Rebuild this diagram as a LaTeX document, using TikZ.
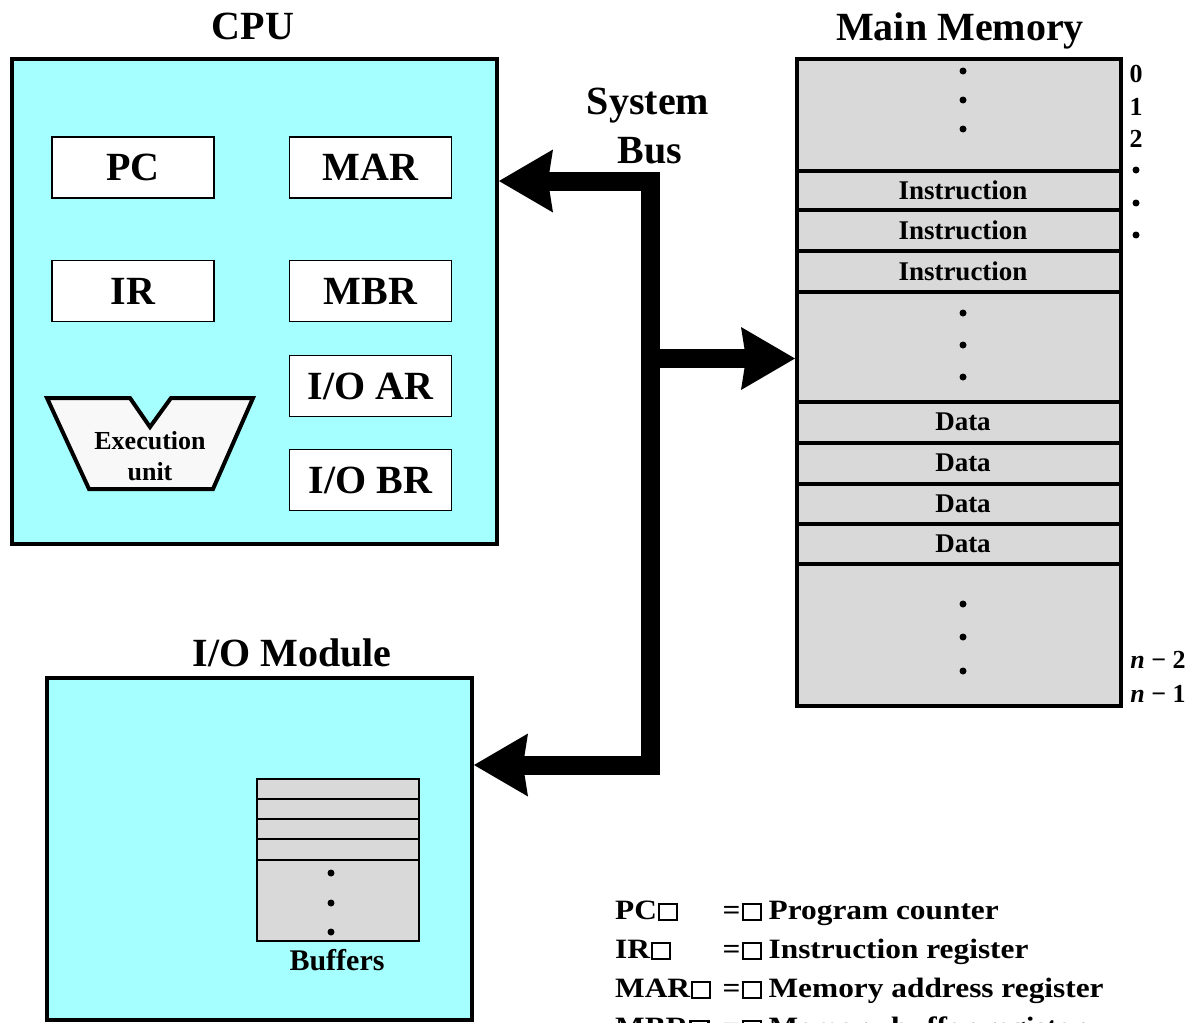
\documentclass[tikz,border=0pt]{standalone}
\usepackage{fontspec}
\usepackage{graphicx}
\setmainfont{Liberation Serif}
\usetikzlibrary{arrows.meta}
\definecolor{cpucyan}{RGB}{166,255,255}
\definecolor{memgray}{RGB}{217,217,217}
\definecolor{exugray}{RGB}{248,248,248}
\newcommand{\fs}[1]{\fontsize{#1}{#1}\selectfont\bfseries}
\newcommand{\sqb}{\kern1pt{\fboxsep=0pt\fboxrule=2pt\fbox{\rule{0pt}{14pt}\hspace{14pt}}}\kern2pt}
\tikzset{
  bustip/.tip={Stealth[line width=0pt,length=54pt,width=63pt,inset=5pt]},
  title/.style={font=\fs{40}, anchor=base, inner sep=0},
  bigbox/.style={draw, line width=4pt, fill=cpucyan, inner sep=0},
  reg/.style={draw, line width=1.6pt, fill=white, minimum width=162pt, minimum height=61pt, inner sep=0, font=\fs{40}},
  memrow/.style={font=\fs{27}, inner sep=0},
  memsep/.style={line width=4pt},
  dotmark/.style={circle, fill=black, inner sep=0, minimum size=7pt},
  idx/.style={font=\fs{26}, anchor=base, inner sep=0},
  busline/.style={line width=19pt, line join=miter},
  legend/.style={anchor=base west, inner sep=0, font=\fs{28}},
}
\begin{document}
\begin{tikzpicture}[x=1pt,y=-1pt]
\clip (0,0) rectangle (1192,1023);
\fill[white] (0,0) rectangle (1192,1023);

% titles
\node[title] (tcpu) at (253,39) {CPU};
\node[title] (tmem) at (960,40) {Main Memory};
\node[title] (tsys) at (648,114) {System};
\node[title] (tbus) at (650,163) {Bus};
\node[title] (tio) at (292,666) {I/O Module};

% CPU
\node[bigbox, minimum width=485pt, minimum height=485pt] (cpu) at (254.5,301.5) {};
\node[reg] (pc) at (133,167.5) {PC};
\node[reg] (mar) at (370.5,167.5) {MAR};
\node[reg] (ir) at (133,291) {IR};
\node[reg] (mbr) at (370.5,291) {MBR};
\node[reg] (ioar) at (370.5,386) {I/O AR};
\node[reg] (iobr) at (370.5,480) {I/O BR};
\draw[line width=4pt, fill=exugray, line join=miter]
  (47,398) -- (130,398) -- (150,427) -- (171,398) -- (253,398) -- (213,489) -- (89,489) -- cycle;
\node[font=\fontsize{26}{31}\selectfont\bfseries, align=center, inner sep=0] (exu) at (150,456) {Execution\\unit};

% Main memory
\node[draw, line width=4pt, fill=memgray, inner sep=0, minimum width=324pt, minimum height=647pt] (mem) at (959,382.5) {};
\foreach \yy in {170.5,210,251,291.5,401.5,442.5,483.5,523.5,564}
  \draw[memsep] (797,\yy) -- (1121,\yy);
\node[memrow] (ins1) at (963,190.5) {Instruction};
\node[memrow] (ins2) at (963,230.5) {Instruction};
\node[memrow] (ins3) at (963,271) {Instruction};
\node[memrow] (dat1) at (963,422) {Data};
\node[memrow] (dat2) at (963,463) {Data};
\node[memrow] (dat3) at (963,503.5) {Data};
\node[memrow] (dat4) at (963,543.5) {Data};
\foreach \yy [count=\i] in {71,100,129,313,345,377,604,637,671}
  \node[dotmark] (md\i) at (963,\yy) {};
\node[idx] (i0) at (1136,82) {0};
\node[idx] (i1) at (1136,115) {1};
\node[idx] (i2) at (1136,147) {2};
\foreach \yy [count=\i] in {170,203,235}
  \node[dotmark] (rd\i) at (1136,\yy) {};
\node[idx] (in2) at (1158,668) {{\itshape n} − 2};
\node[idx] (in1) at (1158,702) {{\itshape n} − 1};

% I/O module
\node[bigbox, minimum width=425pt, minimum height=342pt] (iom) at (259.5,849) {};
\node[draw, line width=1.5pt, fill=memgray, inner sep=0, minimum width=162pt, minimum height=162pt] (buf) at (338,860) {};
\foreach \yy in {799,819,839,860}
  \draw[line width=1.5pt] (257,\yy) -- (419,\yy);
\foreach \yy [count=\i] in {873,903,932}
  \node[dotmark] (bd\i) at (331,\yy) {};
\node[font=\fs{30}, anchor=base, inner sep=0] (tbuf) at (337,970) {Buffers};

% system bus
\coordinate (bt) at (650,181);
\coordinate (bm) at (650,358.5);
\coordinate (bb) at (650,765);
\draw[busline, bustip-bustip] (cpu.east |- bt) -- (bt) -- (bb) -- (iom.east |- bb);
\draw[busline, -bustip] (bm) -- (mem.west |- bm);

% legend
\node[legend] (lg1) at (615,919) {\scalebox{1.12}[1]{\makebox[96pt][l]{PC\sqb}\makebox[41pt][l]{=\sqb}Program counter}};
\node[legend] (lg2) at (615,958) {\scalebox{1.12}[1]{\makebox[96pt][l]{IR\sqb}\makebox[41pt][l]{=\sqb}Instruction register}};
\node[legend] (lg3) at (615,997) {\scalebox{1.12}[1]{\makebox[96pt][l]{MAR\sqb}\makebox[41pt][l]{=\sqb}Memory address register}};
\node[legend] (lg4) at (615,1036) {\scalebox{1.12}[1]{\makebox[96pt][l]{MBR\sqb}\makebox[41pt][l]{=\sqb}Memory buffer register}};
\end{tikzpicture}
\end{document}
